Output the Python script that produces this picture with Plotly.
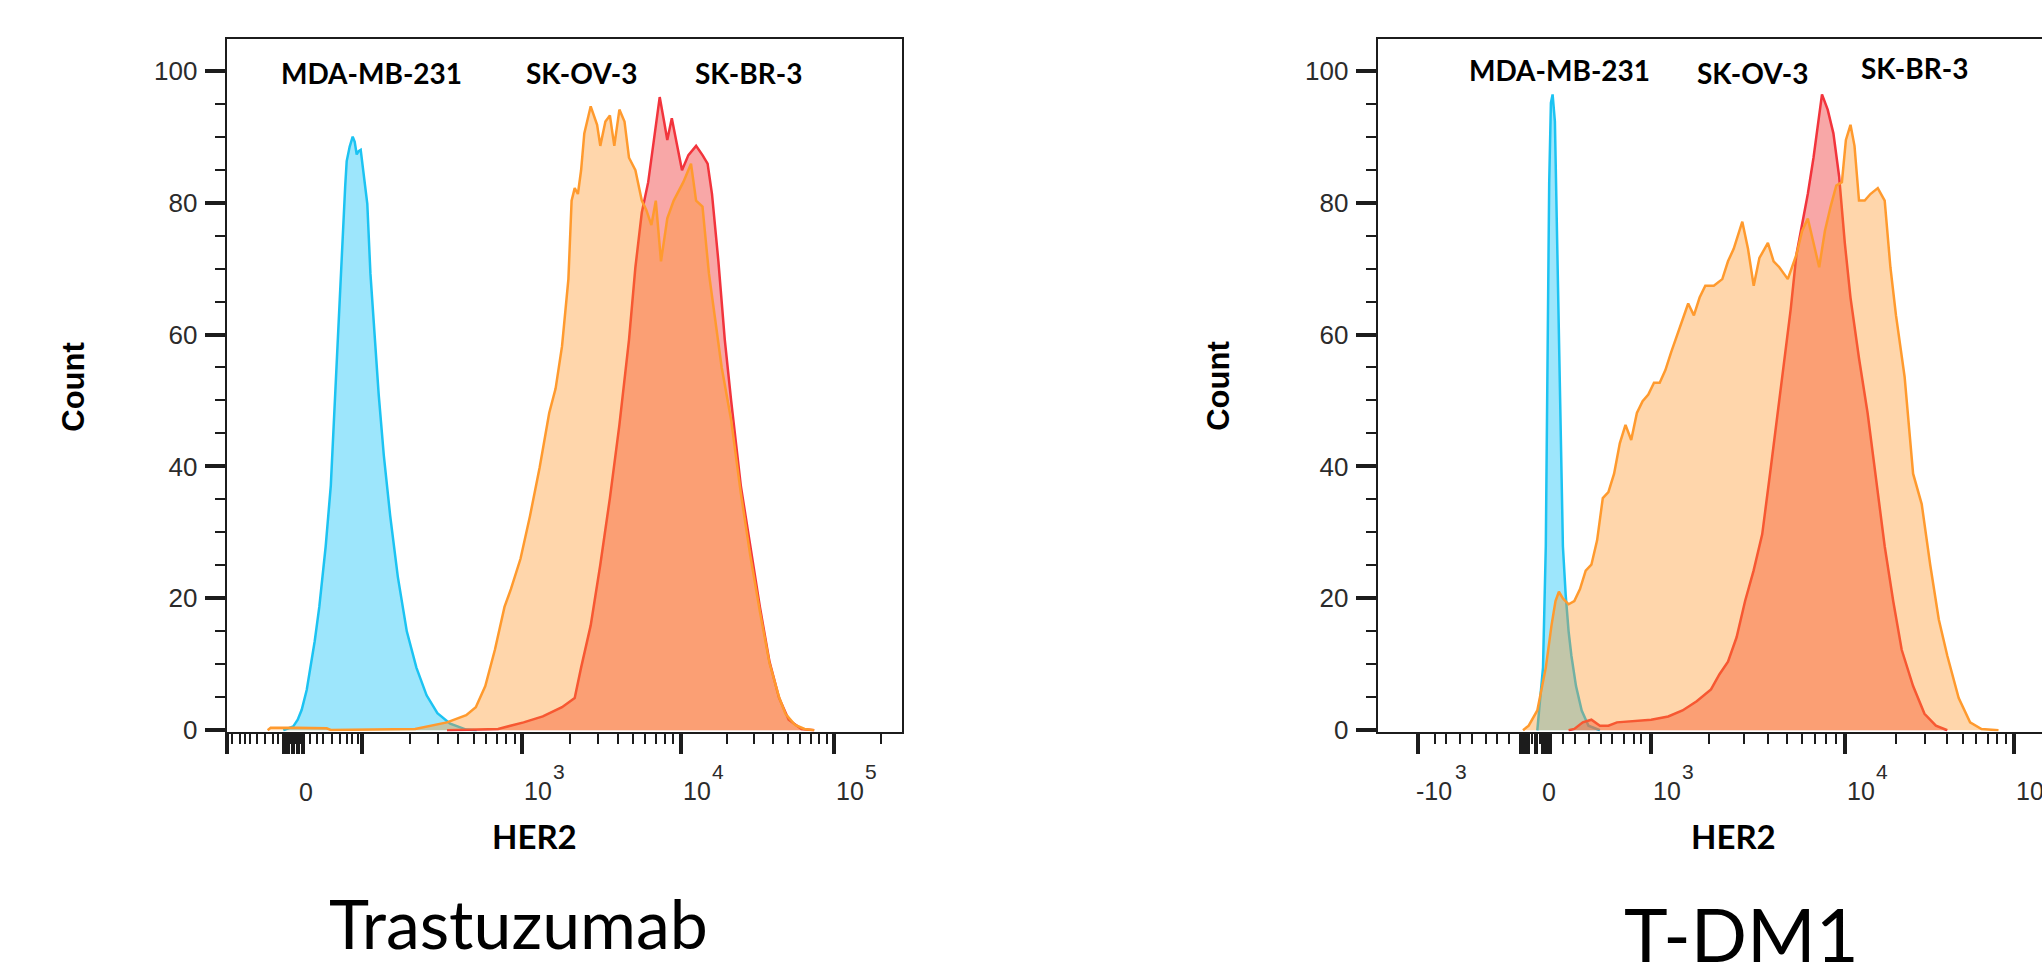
import numpy as np
import plotly.graph_objects as go

# ---------------- data (display channel along HER2 axis, cell count) ----------------
# Trastuzumab panel
tz_mda_ch = [56.6, 62, 66.6, 71, 75, 80, 83.3, 88, 92.6, 96, 99, 104.1, 107, 110, 113, 116.6, 118.5,
             120, 123, 126, 128, 130, 132, 134, 136, 140.6, 143.7, 147.5, 152, 157.1, 163.5, 171.1,
             180.1, 189.7, 199.9, 210.7, 223.5, 239.5, 250]
tz_mda_cnt = [0, 0.3, 0.6, 1.6, 3.1, 6.1, 9.1, 13.5, 18.7, 23.5, 27.9, 37.1, 46.3, 55.5, 64.7, 78.0, 82.5,
              86.3, 88.5, 90.0, 89.2, 87.3, 87.8, 88.0, 85.4, 79.8, 69.3, 60.1, 50.9, 41.7, 32.5, 23.3,
              15.0, 9.5, 5.3, 2.6, 1.0, 0.1, 0]

tz_skov_ch = [41, 44, 70, 100, 104, 156.5, 188.4, 220.3, 239.5, 249.1, 258.6, 268.2, 277.8, 284.2, 293.8,
              303.3, 312.9, 322.5, 328.9, 335.3, 341.7, 344.9, 348.0, 351.2, 354.4, 357.6, 364.0, 370.4,
              373.6, 378.7, 383.2, 387.6, 392.7, 397.8, 402.3, 408.7, 415.1, 419.6, 424.7, 429.1, 434.3,
              440.6, 447.0, 456.6, 464.3, 469.4, 475.8, 482.2, 488.5, 495, 504.5, 514.1, 523.6, 533.2,
              542.8, 552.4, 558.8, 568.4, 577.9, 587.5]
tz_skov_cnt = [0, 0.4, 0.4, 0.3, 0.05, 0.1, 0.2, 1.2, 2.3, 3.5, 6.7, 12.2, 18.7, 21.4, 26.0,
               32.5, 39.8, 48.1, 51.8, 58.2, 68.4, 80.3, 82.2, 81.3, 84.9, 90.5, 94.6, 91.8,
               88.6, 92.3, 93.2, 88.6, 94.1, 92.3, 86.8, 84.9, 80.3, 78.9, 76.6, 80.3, 71.1,
               77.6, 80.3, 83.1, 85.9, 80.3, 79.4, 69.3, 62, 55, 47, 36, 26.5, 18,
               10.2, 5.0, 2.5, 0.8, 0.2, 0]

tz_skbr_ch = [220.3, 271.4, 296.9, 316.1, 335.3, 348.0, 354.4, 364.0, 373.6, 383.2, 392.7, 402.3, 408.7,
              415.1, 421.5, 427.9, 433.0, 437.4, 440.6, 445.1, 450.2, 455.3, 461.7, 469.4, 475.8, 480.9,
              485.3, 491.7, 498.1, 504.5, 514.1, 523.6, 533.2, 542.8, 552.4, 562.0, 574.7, 587.5]
tz_skbr_cnt = [0, 0.2, 1.2, 2.1, 3.5, 4.9, 9.5, 15.9, 25.1, 35.2, 46.3, 59.2, 70.2,
               78.5, 83.1, 90.5, 96.0, 92.3, 89.5, 92.8, 88.6, 84.9, 87.2, 88.6, 87.2, 85.9,
               81.3, 71.1, 59.2, 49.9, 37.1, 27.9, 18.7, 10.4, 4.9, 1.6, 0.2, 0]

# T-DM1 panel
tdm_mda_ch = [159.6, 165.3, 168.1, 169.8, 171.5, 173.2, 174.9, 177.2, 179.5, 182.4, 185.2, 188.0, 190.9,
              193.7, 198.3, 204.0, 210.8, 222.2]
tdm_mda_cnt = [0, 9.5, 27.9, 55.5, 83.1, 95.1, 96.4, 92.3, 73.9, 50.9, 27.9, 20.5, 15.0,
               11.3, 6.7, 3.0, 0.7, 0]

tdm_skov_ch = [145.3, 151.0, 159.6, 168.1, 173.8, 177.8, 181.2, 185.2, 190.9, 196.6, 202.3, 208.0, 213.7,
               219.4, 225.1, 230.7, 236.4, 242.1, 247.8, 253.5, 259.2, 264.9, 270.6, 276.3, 282.0, 287.7,
               293.4, 301.9, 310.5, 316.2, 321.9, 327.6, 336.1, 344.6, 350.3, 356.0, 364.6, 370.3, 376.0,
               381.7, 390.2, 395.9, 401.6, 410.1, 418.7, 424.4, 430.1, 435.8, 441.5, 447.2, 452.9, 458.6,
               464.2, 468.2, 472.8, 476.8, 481.3, 487.0, 492.7, 500.1, 507.0, 512.7, 518.3, 526.9, 535.4,
               544.0, 552.5, 561.1, 569.6, 581.0, 592.4, 603.8, 620.8]
tdm_skov_cnt = [0, 0.7, 3.0, 9.5, 15.9, 19.6, 21.0, 20.0, 19.1, 19.6, 21.4, 24.2, 25.1,
                28.8, 35.2, 36.1, 38.9, 43.5, 46.3, 44.0, 48.1, 49.9, 50.9, 52.7, 52.7, 54.6,
                57.3, 61.0, 64.7, 62.9, 65.6, 67.4, 67.4, 68.4, 71.1, 73.0, 77.1, 73.0, 67.4,
                71.6, 73.9, 71.1, 70.2, 68.4, 72.1, 75.7, 77.6, 73.9, 70.2, 75.7, 79.4, 82.6,
                83.1, 89.5, 91.8, 88.6, 80.3, 80.3, 81.3, 82.2, 80.3, 70.2, 62.9, 53.6, 38.9,
                34.3, 25.1, 16.8, 11.3, 4.9, 1.2, 0.2, 0]

tdm_skbr_ch = [190.9, 196.6, 205.1, 213.7, 222.2, 230.7, 239.3, 256.4, 273.5, 290.5, 304.8, 319.0, 333.3,
               341.8, 350.3, 358.9, 367.4, 375.9, 384.5, 393.1, 401.6, 407.3, 413.0, 418.7, 424.4, 430.1,
               435.8, 440.3, 444.3, 450.0, 455.7, 461.4, 467.1, 472.8, 481.3, 489.9, 498.4, 507.0, 515.5,
               524.0, 535.4, 546.8, 558.2, 569.6]
tdm_skbr_cnt = [0, 0.2, 1.2, 1.6, 0.7, 0.7, 1.2, 1.4, 1.6, 2.1, 3.0, 4.4, 6.2,
                8.5, 10.4, 14.1, 19.6, 24.2, 29.7, 39.8, 49.9, 56.4, 63.8, 72.1, 76.7, 81.3,
                86.8, 92.3, 96.4, 94.1, 90.5, 84.0, 73.9, 65.6, 56.4, 48.1, 38.0, 27.9, 19.6,
                12.2, 6.7, 2.5, 0.7, 0]

cell_lines = ["MDA-MB-231", "SK-OV-3", "SK-BR-3"]
panel_titles = ["Trastuzumab", "T-DM1"]

# axis ticks (display channel of decade marks)
tz_major_ch = [0, 57, 61.5, 66.6, 71.5, 76, 135, 295.3, 454, 607.6]
tz_label_ch = [66.6, 295.3, 454, 607.6]
tz_label_base = ["0", "10", "10", "10"]
tz_label_exp = ["", "3", "4", "5"]
tz_neg_minor = [5, 13.3, 18.3, 23.3, 30, 38.3, 46.6, 51.6, 59, 64]
tz_pos_minor = [69, 74, 83.3, 90, 96.6, 105, 113.3, 120, 125, 131.6]

tdm_major_ch = [40.6, 143, 147, 150.5, 158.3, 165.5, 169, 172.5, 273.3, 467.3, 636.0]
tdm_label_ch = [40.6, 158.3, 273.3, 467.3, 636.0]
tdm_label_base = ["-10", "0", "10", "10", "10"]
tdm_label_exp = ["3", "", "3", "4", "5"]
tdm_neg_minor = [57, 68.3, 82.3, 94.1, 108.3, 119.7, 131.1, 154]
tdm_pos_minor = [162, 185, 196.8, 211, 222.8, 234.7, 246.5, 255.9, 263]

y_major = [0, 20, 40, 60, 80, 100]
y_minor = [v for v in range(5, 100, 5) if v % 20 != 0]

for a, b in [(tz_mda_ch, tz_mda_cnt), (tz_skov_ch, tz_skov_cnt), (tz_skbr_ch, tz_skbr_cnt),
             (tdm_mda_ch, tdm_mda_cnt), (tdm_skov_ch, tdm_skov_cnt), (tdm_skbr_ch, tdm_skbr_cnt)]:
    assert len(a) == len(b)


def decade_minor(lo, hi):
    return [lo + (hi - lo) * np.log10(k) for k in range(2, 10)]


tz_minor = (tz_neg_minor + tz_pos_minor + decade_minor(135, 295.3) + decade_minor(295.3, 454)
            + decade_minor(454, 607.6) + [607.6 + (607.6 - 454) * np.log10(2)])
tdm_minor = (tdm_neg_minor + tdm_pos_minor + decade_minor(273.3, 467.3) + decade_minor(467.3, 636.0))

# ---------------- style ----------------
W, H = 2042, 965
BLUE_L, BLUE_F = "#1cc3f2", "rgba(60,205,250,0.5)"
RED_L, RED_F = "#f2343c", "rgba(240,60,60,0.45)"
ORG_L, ORG_F = "#ff9a2e", "rgba(255,148,35,0.38)"
INK = "#1c1c1c"
LBL_FONT = "Lato"
NUM_FONT = "Liberation Sans"

PX_L = (226.7, 901.7)
PX_R = (1377.7, 2042.0)
PY = (40.0, 742.3)
ydom = [1 - PY[1] / H, 1 - PY[0] / H]

fig = go.Figure()


def hist(ch, cnt, lc, fc, xa, ya):
    fig.add_trace(go.Scatter(x=ch, y=cnt, mode="lines", line=dict(color=lc, width=2.5),
                             fill="tozeroy", fillcolor=fc, xaxis=xa, yaxis=ya,
                             hoverinfo="skip", showlegend=False))


hist(tz_mda_ch, tz_mda_cnt, BLUE_L, BLUE_F, "x", "y")
hist(tz_skbr_ch, tz_skbr_cnt, RED_L, RED_F, "x", "y")
hist(tz_skov_ch, tz_skov_cnt, ORG_L, ORG_F, "x", "y")
hist(tdm_mda_ch, tdm_mda_cnt, BLUE_L, BLUE_F, "x2", "y2")
hist(tdm_skbr_ch, tdm_skbr_cnt, RED_L, RED_F, "x2", "y2")
hist(tdm_skov_ch, tdm_skov_cnt, ORG_L, ORG_F, "x2", "y2")


def xaxis_cfg(dom, rng, major, minor, anchor):
    return dict(domain=dom, range=rng, anchor=anchor, showline=True, linecolor=INK, linewidth=2.2,
                mirror=True, showgrid=False, zeroline=False, ticks="outside", tickmode="array",
                tickvals=major, ticklen=20, tickwidth=3.5, tickcolor=INK, showticklabels=False,
                minor=dict(tickmode="array", tickvals=minor, ticks="outside", ticklen=10,
                           tickwidth=2, tickcolor=INK, showgrid=False),
                fixedrange=True)


def yaxis_cfg(anchor, mirror):
    return dict(domain=ydom, range=[-0.19, 104.74], anchor=anchor, showline=True, linecolor=INK,
                linewidth=2.2, mirror=mirror, showgrid=False, zeroline=False, ticks="outside",
                tickmode="array", tickvals=y_major, ticktext=[str(v) for v in y_major],
                ticklen=20, tickwidth=3.5, tickcolor=INK, ticklabelstandoff=2,
                tickfont=dict(family=NUM_FONT, size=26, color="#2b2b2b"),
                minor=dict(tickmode="array", tickvals=y_minor, ticks="outside", ticklen=10,
                           tickwidth=2, tickcolor=INK, showgrid=False),
                fixedrange=True)


fig.update_layout(
    width=W, height=H, margin=dict(l=0, r=0, t=0, b=0),
    paper_bgcolor="white", plot_bgcolor="white",
    xaxis=xaxis_cfg([PX_L[0] / W, PX_L[1] / W], [0, 675], tz_major_ch, tz_minor, "y"),
    yaxis=yaxis_cfg("x", True),
    xaxis2=xaxis_cfg([PX_R[0] / W, 1.0], [0, 664.3], tdm_major_ch, tdm_minor, "y2"),
    yaxis2=yaxis_cfg("x2", False),
)

ann = []


def tick_labels(xref, chs, bases, exps):
    for ch, b, e in zip(chs, bases, exps):
        if e == "":
            ann.append(dict(x=ch, xref=xref, y=1 - 803.5 / H, yref="paper", text=b, showarrow=False,
                            xanchor="center", xshift=13, yanchor="middle",
                            font=dict(family=NUM_FONT, size=25, color="#2b2b2b")))
        else:
            shift = -4 if b.startswith("-") else 0
            ann.append(dict(x=ch, xref=xref, y=1 - 802.5 / H, yref="paper", text=b, showarrow=False,
                            xanchor="left", xshift=shift, yanchor="middle",
                            font=dict(family=NUM_FONT, size=25, color="#2b2b2b")))
            ann.append(dict(x=ch, xref=xref, y=1 - 782.5 / H, yref="paper", text=e, showarrow=False,
                            xanchor="left", xshift=shift + (39 if b.startswith("-") else 29),
                            yanchor="middle",
                            font=dict(family=NUM_FONT, size=21, color="#2b2b2b")))


tick_labels("x", tz_label_ch, tz_label_base, tz_label_exp)
tick_labels("x2", tdm_label_ch, tdm_label_base, tdm_label_exp)

# cell-line labels inside the panels (channel, count positions)
tz_name_ch = [144.9, 355.7, 522.0]
tdm_name_ch = [181.3, 374.8, 536.3]
tz_name_y = [99.7, 99.7, 99.7]
tdm_name_y = [100.1, 99.7, 100.4]
for xr, yr, chs, ys in [("x", "y", tz_name_ch, tz_name_y), ("x2", "y2", tdm_name_ch, tdm_name_y)]:
    for name, c, yv in zip(cell_lines, chs, ys):
        ann.append(dict(x=c, xref=xr, y=yv, yref=yr, text=name, showarrow=False,
                        xanchor="center", yanchor="middle",
                        font=dict(family=LBL_FONT, size=28, color="black", weight="bold")))

# axis titles and panel titles
for cx_count, cx_her2, cx_title, title, tsize, ty in [
        (73.4, 534.0, 518.6, panel_titles[0], 68, 936.0),
        (1218.5, 1733.7, 1741.3, panel_titles[1], 74, 947.0)]:
    ann.append(dict(x=cx_count / W, xref="paper", y=1 - 392 / H, yref="paper", text="Count",
                    showarrow=False, textangle=-90, xanchor="center", yanchor="middle",
                    font=dict(family=NUM_FONT, size=31, color="black", weight="bold")))
    ann.append(dict(x=cx_her2 / W, xref="paper", y=1 - 848 / H, yref="paper", text="HER2",
                    showarrow=False, xanchor="center", yanchor="middle",
                    font=dict(family=LBL_FONT, size=33, color="black", weight="bold")))
    ann.append(dict(x=cx_title / W, xref="paper", y=1 - ty / H, yref="paper", text=title,
                    showarrow=False, xanchor="center", yanchor="middle",
                    font=dict(family=LBL_FONT, size=tsize, color="black")))

fig.update_layout(annotations=ann)

fig.write_html("out.html", config={"displayModeBar": False},
               post_script="document.body.style.margin='0px';document.body.style.overflow='hidden';")
